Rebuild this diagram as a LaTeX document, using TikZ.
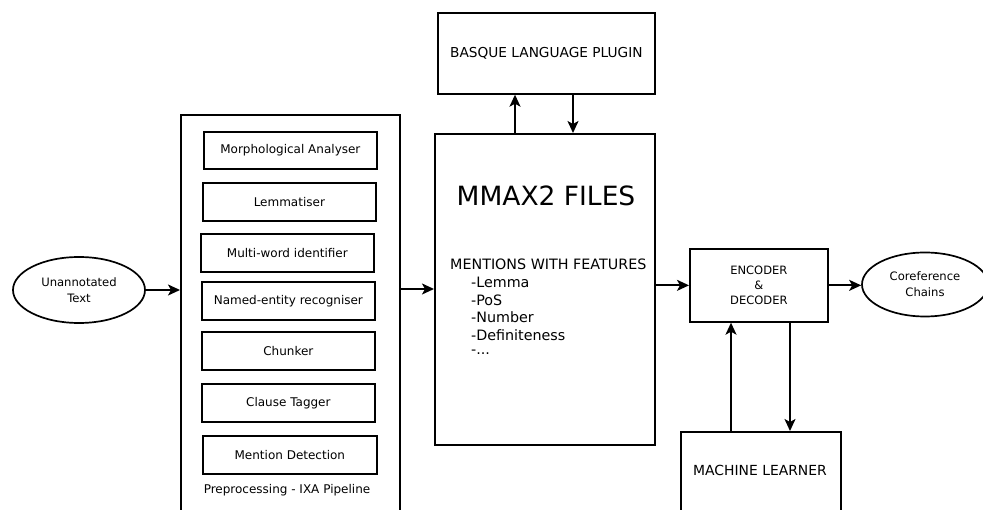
\documentclass[tikz,border=0pt]{standalone}
\usepackage{fontspec}
\setmainfont{DejaVu Sans}
\usetikzlibrary{arrows.meta,shapes.geometric}
\tikzset{
  box/.style={draw, line width=1.7pt, rectangle, inner sep=0pt, anchor=north west},
  sub/.style={box, font=\fontsize{12}{14}\selectfont, minimum height=38pt, minimum width=173pt},
  oval/.style={draw, line width=1.7pt, ellipse, inner sep=0pt, align=center, font=\fontsize{11.6}{16}\selectfont},
  arr/.style={-{Stealth[length=12pt,width=11pt,inset=3pt]}, line width=1.7pt},
  lbl/.style={inner sep=0pt, anchor=west, font=\fontsize{14.3}{16}\selectfont}
}
\begin{document}
\begin{tikzpicture}[x=1pt,y=-1pt]
\useasboundingbox (0,0) rectangle (983,510);
\clip (0,0) rectangle (983,510);

% left input
\node[oval, minimum width=132pt, minimum height=66pt] (unann) at (79,290) {Unannotated\\Text};

% preprocessing
\node[box, minimum width=219pt, minimum height=420pt] (pre) at (180,114) {};
\node[sub, minimum height=37pt] (morph) at (203,131) {Morphological Analyser};
\node[sub] (lem) at (202,182) {Lemmatiser};
\node[sub] (multi) at (200,233) {Multi-word identifier};
\node[sub] (ner) at (201,281) {Named-entity recogniser};
\node[sub] (chunk) at (201,331) {Chunker};
\node[sub] (clause) at (201,383) {Clause Tagger};
\node[sub, minimum width=174pt] (mention) at (202,435) {Mention Detection};
\node[inner sep=0pt, font=\fontsize{12}{14}\selectfont] (prelbl) at (287,490) {Preprocessing - IXA Pipeline};

% MMAX
\node[box, minimum width=220pt, minimum height=311pt] (mmax) at (434,133) {};
\node[box, minimum width=217pt, minimum height=81pt, font=\fontsize{13.7}{16}\selectfont] (basque) at (437,12) {BASQUE LANGUAGE PLUGIN};
\node[inner sep=0pt, font=\fontsize{26.5}{30}\selectfont] (mmaxtitle) at (546,196) {MMAX2 FILES};
\node[lbl] (feat) at (450,264) {MENTIONS WITH FEATURES};
\node[lbl] (f1) at (471,282) {-Lemma};
\node[lbl] (f2) at (471,300) {-PoS};
\node[lbl] (f3) at (471,317) {-Number};
\node[lbl] (f4) at (471,335) {-Definiteness};
\node[lbl] (f5) at (471,352) {-...};

% encoder / decoder
\node[box, minimum width=138pt, minimum height=73pt, align=center, font=\fontsize{11.5}{15}\selectfont] (enc) at (689,248) {ENCODER\\\&\\DECODER};
\node[oval, minimum width=126pt, minimum height=64pt] (coref) at (925,284.5) {Coreference\\Chains};
\node[box, minimum width=160pt, minimum height=100pt] (ml) at (680,431) {};
\node[inner sep=0pt, font=\fontsize{13.9}{16}\selectfont] (mltext) at (760,470) {MACHINE LEARNER};

% connectors
\draw[arr] (unann.east) -- (unann.east -| pre.west);
\draw[arr] ([yshift=-175pt]pre.north east) -- ([yshift=-156pt]mmax.north west);
\draw[arr] ([xshift=81pt]mmax.north west) -- ([xshift=78pt]basque.south west);
\draw[arr] ([xshift=136pt]basque.south west) -- ([xshift=139pt]mmax.north west);
\draw[arr] (mmax.east |- enc.west) -- (enc.west);
\draw[arr] (enc.east) -- (enc.east -| coref.west);
\draw[arr] ([xshift=51pt]ml.north west) -- ([xshift=42pt]enc.south west);
\draw[arr] ([xshift=101pt]enc.south west) -- ([xshift=110pt]ml.north west);
\end{tikzpicture}
\end{document}
